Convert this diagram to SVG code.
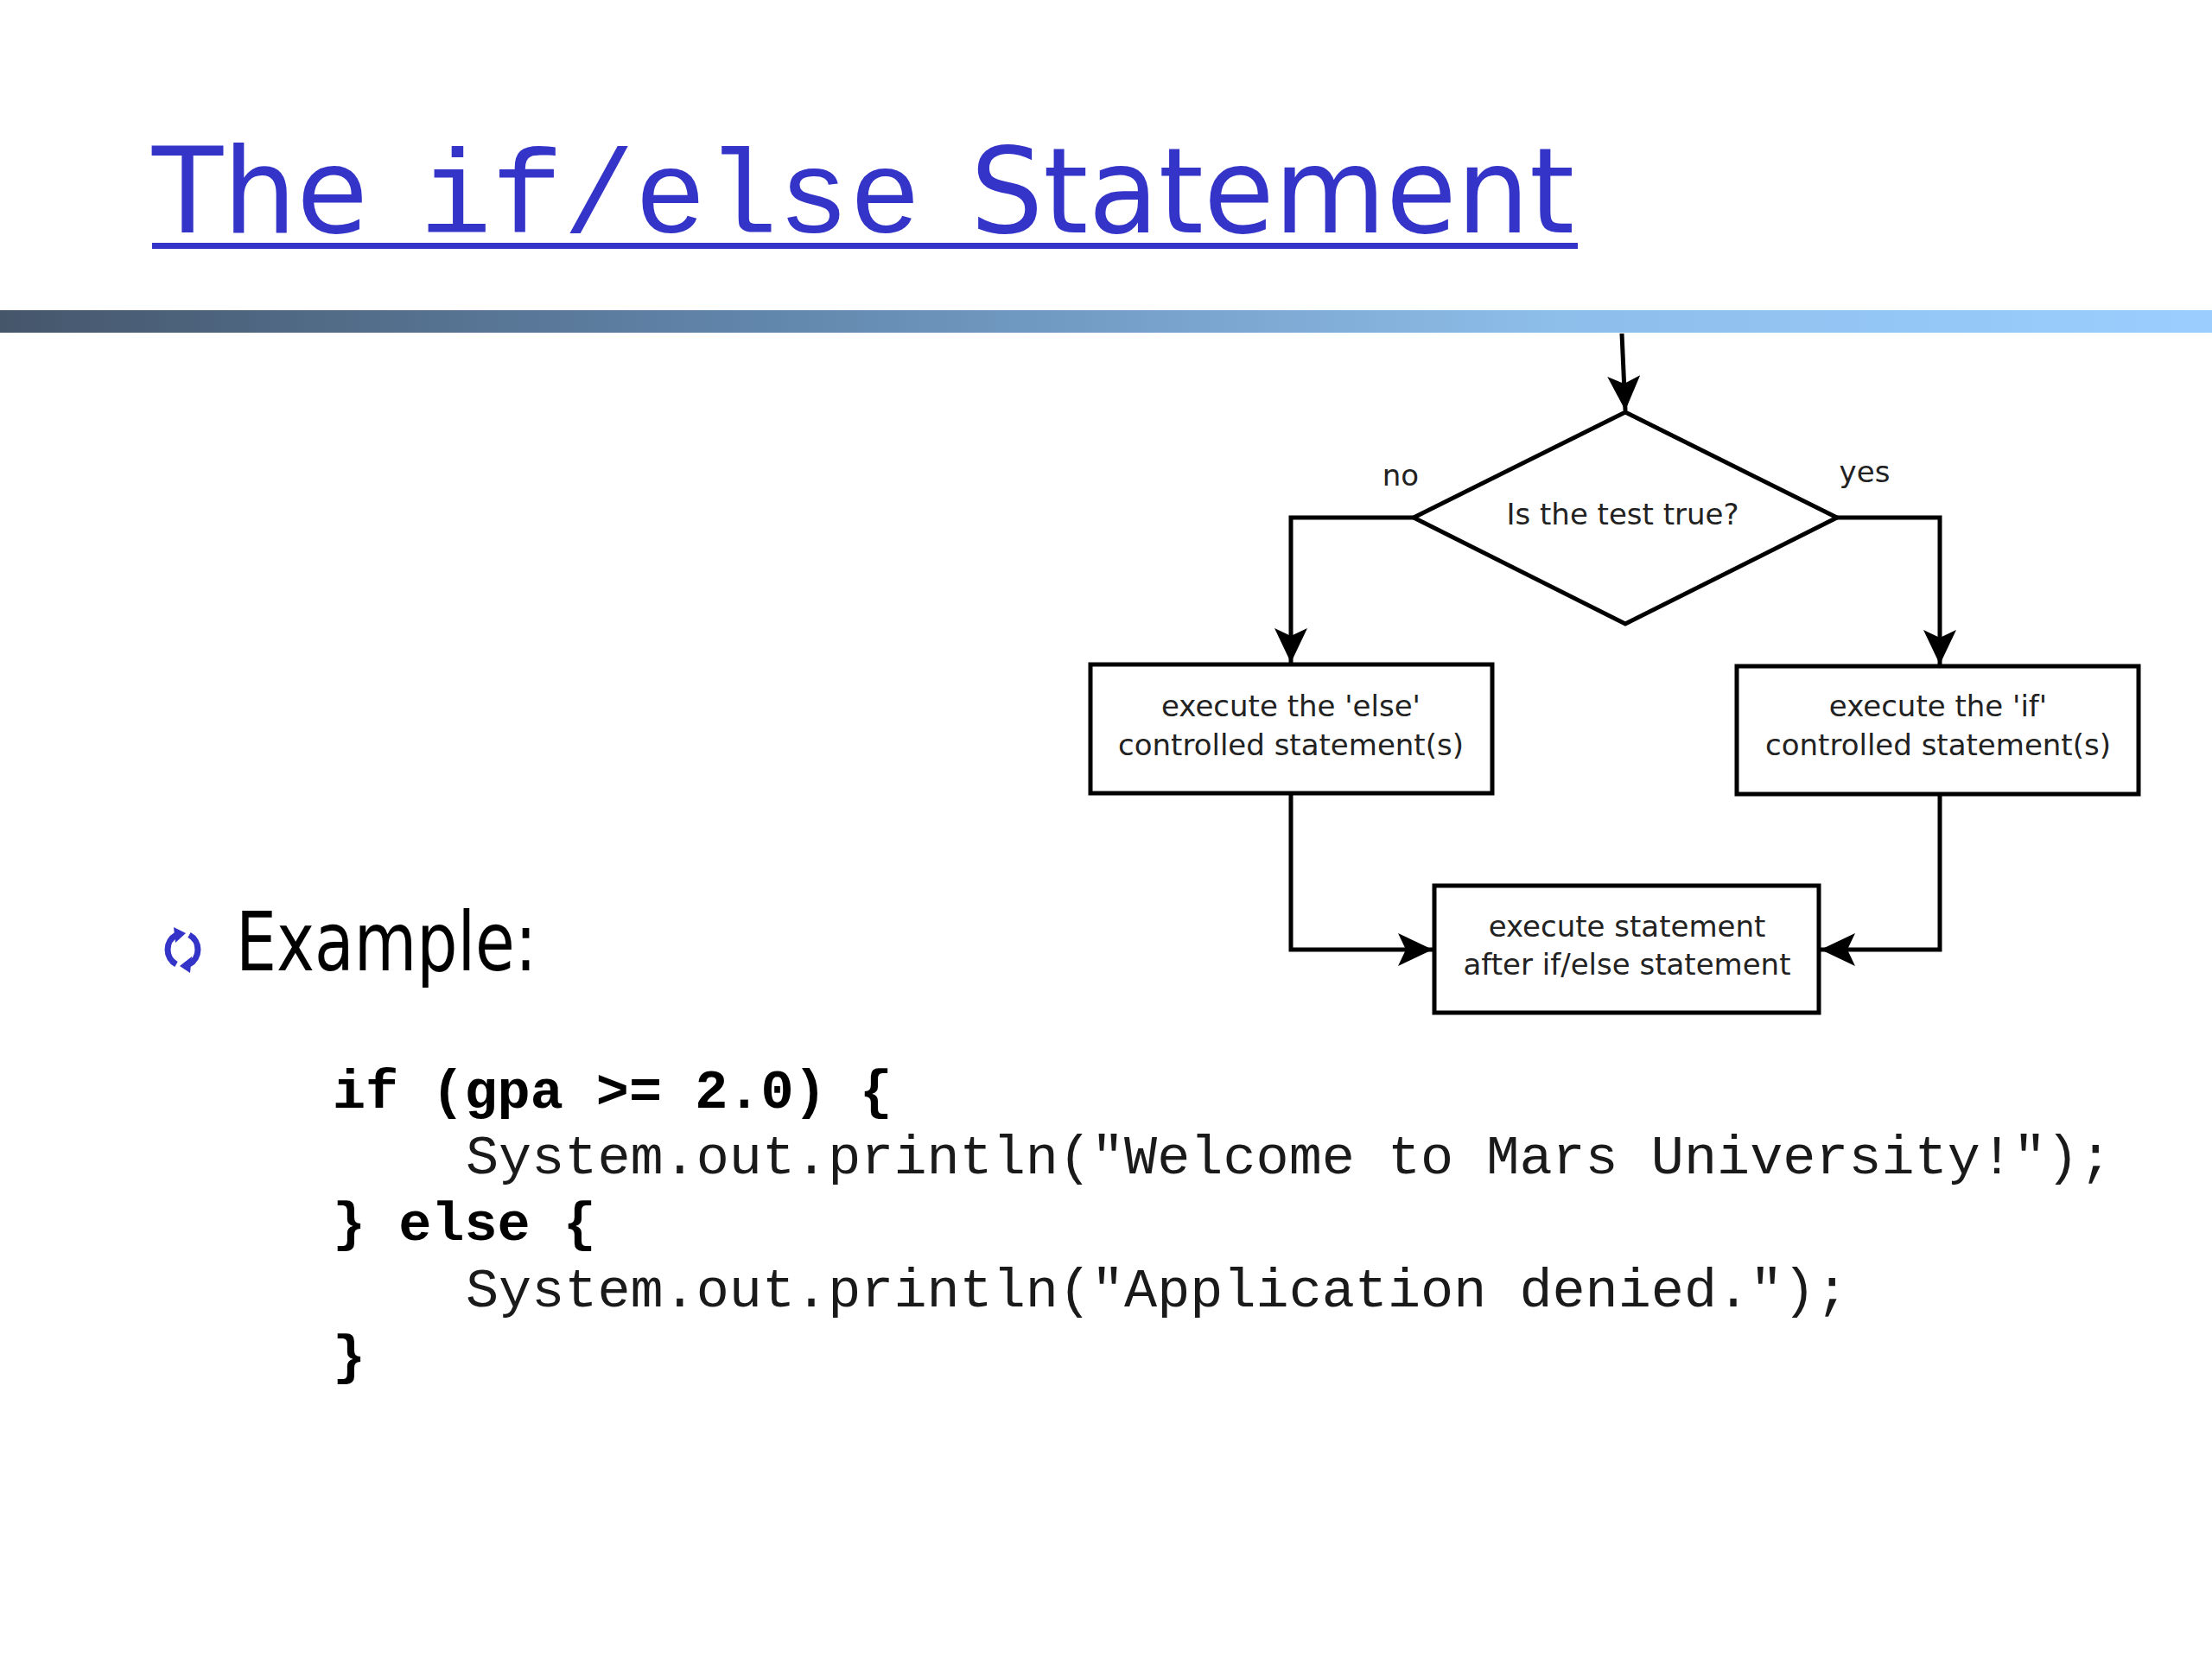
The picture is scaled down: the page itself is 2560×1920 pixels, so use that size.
<svg xmlns="http://www.w3.org/2000/svg" width="2560" height="1920" viewBox="0 0 2560 1920">
<defs>
<linearGradient id="bar" x1="0" y1="0" x2="1" y2="0">
<stop offset="0" stop-color="#45566b"/>
<stop offset="0.35" stop-color="#6287ad"/>
<stop offset="0.7" stop-color="#8dbde9"/>
<stop offset="1" stop-color="#9bceff"/>
</linearGradient>
<marker id="arr" markerUnits="userSpaceOnUse" markerWidth="46" markerHeight="46" viewBox="0 0 46 46" refX="42" refY="23" orient="auto">
<path d="M2,4 L42,23 L2,42 L11,23 Z" fill="#000"/>
</marker>
<style>
.title{font-family:"DejaVu Sans",sans-serif;font-size:138px;fill:#3434c9}
.mono{font-family:"Liberation Mono","Courier New",monospace}
.box{fill:#fff;stroke:#000;stroke-width:5}
.lbl{font-family:"DejaVu Sans",sans-serif;font-size:34px;fill:#222;text-anchor:middle}
.conn{fill:none;stroke:#000;stroke-width:5}
.code{font-family:"Liberation Mono","Courier New",monospace;font-size:63.5px;fill:#1a1a1a}
.b{font-weight:bold;fill:#000}
</style>
</defs>
<rect width="2560" height="1920" fill="#fff"/>
<g id="title">
<text class="title" x="176" y="269" textLength="250" lengthAdjust="spacingAndGlyphs">The</text>
<text class="title mono" x="486" y="269">if/else</text>
<text class="title" x="1123" y="269" textLength="699" lengthAdjust="spacingAndGlyphs">Statement</text>
<rect x="176" y="281" width="1650" height="7" fill="#3434c9"/>
</g>
<rect id="bar-rule" x="0" y="359" width="2560" height="26" fill="url(#bar)"/>
<g id="connectors">
<path class="conn" d="M1877,386 L1881,475" marker-end="url(#arr)"/>
<path class="conn" d="M1636,599 H1494 V767" marker-end="url(#arr)"/>
<path class="conn" d="M2126,599 H2245 V769" marker-end="url(#arr)"/>
<path class="conn" d="M1494,918 V1099 H1658" marker-end="url(#arr)"/>
<path class="conn" d="M2245,919 V1099 H2107" marker-end="url(#arr)"/>
<text class="lbl" x="1621" y="562">no</text>
<text class="lbl" x="2158" y="558">yes</text>
</g>
<g id="decision">
<polygon class="box" points="1881,477 2126,599 1881,722 1636,599"/>
<text class="lbl" x="1878" y="607">Is the test true?</text>
</g>
<g id="else-box">
<rect class="box" x="1262" y="769" width="465" height="149"/>
<text class="lbl" x="1494" y="829">execute the 'else'</text>
<text class="lbl" x="1494" y="874">controlled statement(s)</text>
</g>
<g id="if-box">
<rect class="box" x="2010" y="771" width="465" height="148"/>
<text class="lbl" x="2243" y="829">execute the 'if'</text>
<text class="lbl" x="2243" y="874">controlled statement(s)</text>
</g>
<g id="after-box">
<rect class="box" x="1660" y="1025" width="445" height="147"/>
<text class="lbl" x="1883" y="1084">execute statement</text>
<text class="lbl" x="1883" y="1128">after if/else statement</text>
</g>
<g id="example">
<path d="M204,1116 A18,19 0 0 1 204,1082" fill="none" stroke="#3434c9" stroke-width="7"/>
<polygon points="201,1073 215,1080 203,1091" fill="#3434c9"/>
<path d="M219,1082 A18,19 0 0 1 219,1116" fill="none" stroke="#3434c9" stroke-width="7"/>
<polygon points="222,1107 208,1118 220,1126" fill="#3434c9"/>
<text x="273" y="1123" font-family="DejaVu Sans, sans-serif" font-size="94" fill="#000" textLength="348" lengthAdjust="spacingAndGlyphs">Example:</text>
</g>
<g id="code">
<text class="code b" x="385" y="1282">if (gpa &gt;= 2.0) {</text>
<text class="code" x="539" y="1358">System.out.println("Welcome to Mars University!");</text>
<text class="code b" x="385" y="1435">} else {</text>
<text class="code" x="539" y="1512">System.out.println("Application denied.");</text>
<text class="code b" x="385" y="1589">}</text>
</g>
</svg>
